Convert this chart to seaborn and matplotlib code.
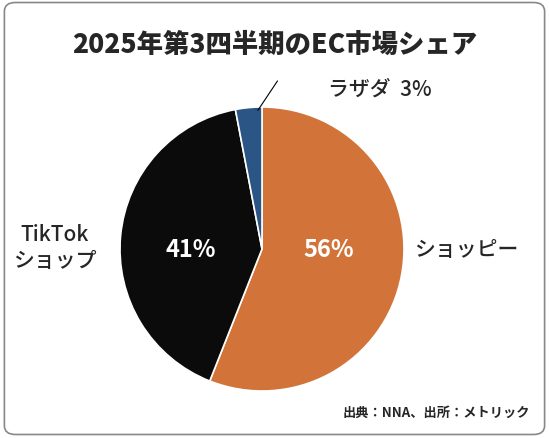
import matplotlib
matplotlib.use("Agg")
import matplotlib.pyplot as plt
import seaborn as sns
from matplotlib.patches import FancyBboxPatch

sns.set_theme(style="white")
plt.rcParams['font.family'] = ['Noto Sans CJK JP', 'DejaVu Sans']

labels = ["ショッピー", "TikTok\nショップ", "ラザダ"]
shares = [56, 41, 3]
colors = ["#D2743A", "#0B0B0B", "#2A5585"]

fig = plt.figure(figsize=(5.49, 4.39), dpi=100)
fig.patch.set_facecolor("white")
fig.patches.append(FancyBboxPatch((0.008, 0.008), 0.984, 0.984, boxstyle="round,pad=0,rounding_size=0.02",
                                  transform=fig.transFigure, fill=False, edgecolor="#888888", linewidth=1.2))

half = 142
ax = fig.add_axes([(262 - half)/549, 1 - (250 + half)/439, 2*half/549, 2*half/439])
wedges, _ = ax.pie(shares, colors=colors, startangle=90, counterclock=False,
                   wedgeprops=dict(edgecolor="white", linewidth=1.2))
ax.set_xlim(-1, 1)
ax.set_ylim(-1, 1)
ax.set_aspect("equal")
ax.set_axis_off()

fig.text(0.5, 1 - 45/439, "2025年第3四半期のEC市場シェア", ha="center", va="center", fontsize=19, fontweight="black")
ax.text(0.47, 0.0, f"{shares[0]}%", ha="center", va="center", color="white", fontsize=17, fontweight="bold")
ax.text(-0.5, 0.0, f"{shares[1]}%", ha="center", va="center", color="white", fontsize=17, fontweight="bold")
fig.text(414/549, 1 - 250/439, labels[0], ha="left", va="center", fontsize=15, fontweight="medium")
fig.text(55/549, 1 - 248/439, labels[1], ha="center", va="center", fontsize=15, fontweight="medium", linespacing=1.2)
fig.text(328/549, 1 - 90/439, f"{labels[2]}  {shares[2]}%", ha="left", va="center", fontsize=15, fontweight="medium")
ax.annotate("", xy=(-0.04, 0.96), xytext=(0.12, 1.2),
            arrowprops=dict(arrowstyle="-", color="black", lw=0.8), annotation_clip=False)
fig.text(0.965, 0.06, "出典：NNA、出所：メトリック", ha="right", va="center", fontsize=9.5, fontweight="bold")

fig.savefig("out.png", dpi=100)
